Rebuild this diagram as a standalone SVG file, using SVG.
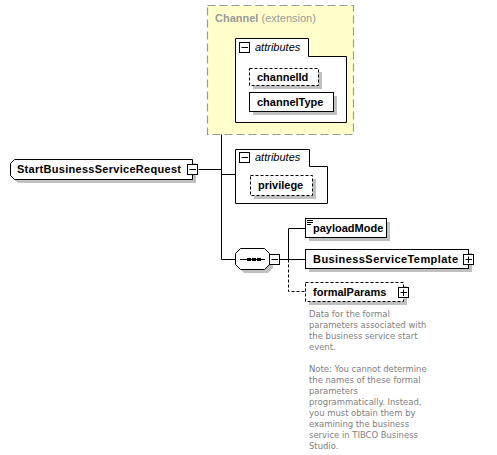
<svg xmlns="http://www.w3.org/2000/svg" width="497" height="455" viewBox="0 0 497 455">
<style>
.bg{fill:#ffffff}
.ext{fill:#ffffcc;stroke:#999999;stroke-width:1.2;stroke-dasharray:8,4}
.box{fill:#ffffff;stroke:#000000;stroke-width:1}
.opt{fill:#ffffff;stroke:#000000;stroke-width:1;stroke-dasharray:3,2}
.sh{fill:#c0c0c0}
.ln{fill:none;stroke:#000000;stroke-width:1}
.dln{fill:none;stroke:#000000;stroke-width:1;stroke-dasharray:3,2}
.name{font-family:"Liberation Sans",Arial,sans-serif;font-size:11px;font-weight:bold;fill:#000000}
.it{font-family:"Liberation Sans",Arial,sans-serif;font-size:11px;font-style:italic;fill:#000000}
.grey{font-family:"Liberation Sans",Arial,sans-serif;font-size:11px;fill:#999999}
.doc{font-family:"DejaVu Sans Condensed","DejaVu Sans","Liberation Sans",sans-serif;font-size:9.4px;fill:#808080}
.icon{fill:#ffffff;stroke:#000000;stroke-width:1}
</style>
<rect class="bg" x="0" y="0" width="497" height="455"/>

<g id="connectors">
<path class="ln" d="M198.5,169.5 H221.5"/>
<path class="ln" d="M221.5,80.5 V259.5"/>
<path class="ln" d="M221.5,80.5 H235"/>
<path class="ln" d="M221.5,174.5 H235"/>
<path class="ln" d="M221.5,259.5 H235"/>
<path class="ln" d="M280,259.5 H305"/>
<path class="ln" d="M288.5,228.5 V259.5"/>
<path class="ln" d="M288.5,228.5 H305"/>
<path class="dln" d="M288.5,259.5 V291.5 H305"/>
</g>

<g id="channel">
<rect class="ext" x="207.5" y="5.5" width="146" height="129"/>
<text x="215" y="22" class="grey"><tspan font-weight="bold">Channel</tspan> (extension)</text>
</g>

<g id="attributes1">
<path class="box" d="M235.5,38.5 H308.5 V56.5 H346.5 V122.5 H235.5 Z"/>
<rect class="icon" x="239.5" y="42.5" width="10" height="10"/>
<path class="ln" d="M241.5,47.5 H248"/>
<text x="255" y="51" class="it">attributes</text>
</g>

<g id="channelId">
<rect class="sh" x="253" y="72" width="69" height="17"/>
<rect class="opt" x="249.5" y="68.5" width="69" height="17"/>
<text x="257" y="81" class="name">channelId</text>
</g>

<g id="channelType">
<rect class="sh" x="253" y="96" width="84" height="19"/>
<rect class="box" x="249.5" y="92.5" width="84" height="19"/>
<text x="257" y="106" class="name">channelType</text>
</g>

<g id="StartBusinessServiceRequest">
<path class="sh" d="M18,163 H196 V183 H18 L14,179 V167 Z"/>
<path class="box" d="M14.5,159.5 H192.5 V179.5 H14.5 L10.5,175.5 V163.5 Z"/>
<text x="17" y="173" class="name" textLength="164" lengthAdjust="spacing">StartBusinessServiceRequest</text>
<rect class="icon" x="187.5" y="164.5" width="10" height="10"/>
<path class="ln" d="M189.5,169.5 H196"/>
</g>

<g id="attributes2">
<path class="box" d="M235.5,149.5 H309.5 V166.5 H327.5 V203.5 H235.5 Z"/>
<rect class="icon" x="239.5" y="152.5" width="10" height="10"/>
<path class="ln" d="M241.5,157.5 H248"/>
<text x="255" y="161" class="it">attributes</text>
</g>

<g id="privilege">
<rect class="sh" x="254" y="179" width="62" height="20"/>
<rect class="opt" x="250.5" y="175.5" width="62" height="20"/>
<text x="258" y="189" class="name">privilege</text>
</g>

<g id="sequence">
<path class="sh" d="M244,252 H268 L273,257 V268 L268,273 H244 L239,268 V257 Z"/>
<path class="box" d="M240.5,248.5 H264.5 L269.5,253.5 V264.5 L264.5,269.5 H240.5 L235.5,264.5 V253.5 Z"/>
<path class="ln" d="M240,259.5 H265"/>
<rect x="247" y="258" width="4" height="3" fill="#000"/>
<rect x="252" y="258" width="4" height="3" fill="#000"/>
<rect x="257" y="258" width="4" height="3" fill="#000"/>
<rect class="icon" x="269.5" y="254.5" width="10" height="10"/>
<path class="ln" d="M271.5,259.5 H278"/>
</g>

<g id="payloadMode">
<rect class="sh" x="309" y="222" width="81" height="19"/>
<rect class="box" x="305.5" y="218.5" width="81" height="19"/>
<path class="ln" d="M307,220.5 H313 M307,222.5 H313 M307,224.5 H311"/>
<text x="313" y="232" class="name">payloadMode</text>
</g>

<g id="BusinessServiceTemplate">
<rect class="sh" x="309" y="253" width="163" height="19"/>
<rect class="box" x="305.5" y="249.5" width="163" height="19"/>
<text x="313" y="263" class="name" textLength="145" lengthAdjust="spacing">BusinessServiceTemplate</text>
<rect class="icon" x="463.5" y="254.5" width="10" height="10"/>
<path class="ln" d="M465.5,259.5 H472 M468.5,256.5 V263"/>
</g>

<g id="formalParams">
<rect class="sh" x="309" y="286" width="98" height="19"/>
<rect class="opt" x="305.5" y="282.5" width="98" height="19"/>
<text x="313" y="296" class="name">formalParams</text>
<rect class="icon" x="398.5" y="287.5" width="10" height="10"/>
<path class="ln" d="M400.5,292.5 H407 M403.5,289.5 V296"/>
<text class="doc">
<tspan x="309" y="317">Data for the formal</tspan>
<tspan x="309" y="328">parameters associated with</tspan>
<tspan x="309" y="339">the business service start</tspan>
<tspan x="309" y="350">event.</tspan>
<tspan x="309" y="372">Note: You cannot determine</tspan>
<tspan x="309" y="383">the names of these formal</tspan>
<tspan x="309" y="394">parameters</tspan>
<tspan x="309" y="405">programmatically. Instead,</tspan>
<tspan x="309" y="416">you must obtain them by</tspan>
<tspan x="309" y="427">examining the business</tspan>
<tspan x="309" y="438">service in TIBCO Business</tspan>
<tspan x="309" y="449">Studio.</tspan>
</text>
</g>
</svg>
